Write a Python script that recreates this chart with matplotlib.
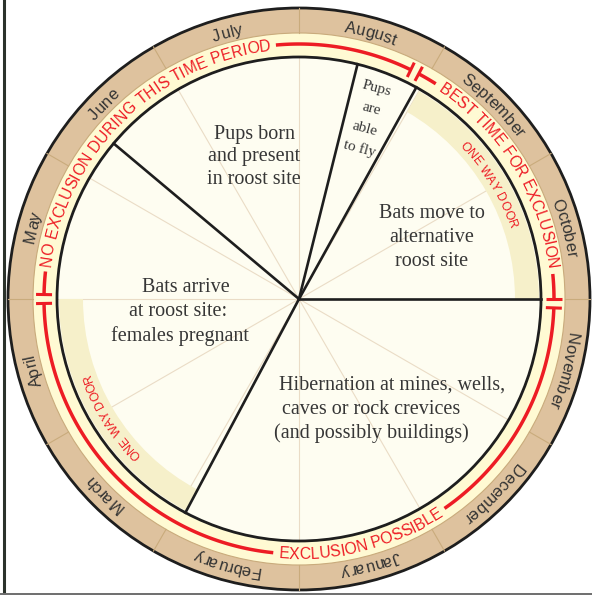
import numpy as np
import matplotlib
matplotlib.use('Agg')
import matplotlib.pyplot as plt
from matplotlib.patches import Circle, Wedge
from matplotlib.font_manager import FontProperties, findfont, get_font

# --- data -------------------------------------------------------------
months = ['January', 'February', 'March', 'April', 'May', 'June',
          'July', 'August', 'September', 'October', 'November', 'December']

# boundaries of the life-cycle wedges (degrees, 0 = east, counter-clockwise)
stage_edges = [140, 76, 61, 0, -118]
stage_labels = [
    ['Pups born', 'and present', 'in roost site'],
    ['Pups', 'are', 'able', 'to fly'],
    ['Bats move to', 'alternative', 'roost site'],
    ['Hibernation at mines, wells,', 'caves or rock crevices',
     '(and possibly buildings)'],
    ['Bats arrive', 'at roost site:', 'females pregnant'],
]

periods = ['NO EXCLUSION DURING THIS TIME PERIOD', 'BEST TIME FOR EXCLUSION',
           'EXCLUSION POSSIBLE']
period_edges = [180, 63, -1, -180]
period_mid = [134.5, 31.6, -75.5]

door_spans = [(0, 60), (180, 242)]
door_label = 'ONE WAY DOOR'

# --- layout -----------------------------------------------------------
W, H = 592, 595
CX, CY = 299, H - 299
R_OUT, R_TAN, R_RED, R_IN = 291, 266, 255, 242

TAN = '#dec29e'
CREAM = '#fffad3'
PIE = '#fefdf1'
DOOR = '#f6f0ca'
RED = '#ed1c24'
INK = '#363636'

# line positions for the wedge texts, in picture pixels (x, y, rotation)
label_pos = [
    [(254, 134, 0), (254, 157, 0), (254, 180, 0)],
    [(377, 89, -15), (371, 109, -15), (365, 129, -15), (360, 149, -15)],
    [(432, 213, 0), (432, 237, 0), (432, 262, 0)],
    [(392, 385, 0), (371, 409, 0), (371, 433, 0)],
    [(186, 288, 0), (178, 312, 0), (180, 336, 0)],
]
label_size = [14.5, 11, 14.5, 14.5, 14.5]


def xy(r, deg):
    t = np.radians(deg)
    return CX + r * np.cos(t), CY + r * np.sin(t)


def arc(ax, r, a1, a2, **kw):
    t = np.linspace(a1, a2, 120)
    x, y = xy(r, t)
    ax.plot(x, y, solid_capstyle='butt', **kw)


def curved_text(ax, s, r, mid, fs, color, clockwise=True,
                family='Liberation Sans'):
    fp = FontProperties(family=family, size=fs)
    font = get_font(findfont(fp))
    font.set_size(fs, 100)
    adv, ink = [], []
    for c in s:
        g = font.load_char(ord(c))
        adv.append(g.linearHoriAdvance / 65536)
        b = g.bbox
        ink.append((b[0] + b[2]) / 2 / 64)
    adv = np.array(adv)
    ink = np.array(ink)
    start = np.cumsum(adv) - adv - adv.sum() / 2
    pos = start + ink
    sign = -1 if clockwise else 1
    for c, p in zip(s, pos):
        if c == ' ':
            continue
        a = mid + sign * np.degrees(p / r)
        x, y = xy(r, a)
        rot = a - 90 if clockwise else a + 90
        ax.text(x, y, c, rotation=rot, rotation_mode='anchor', ha='center',
                va='baseline', fontproperties=fp, color=color, zorder=6)
    return np.degrees(adv.sum() / 2 / r)


fig = plt.figure(figsize=(5.92, 5.95), dpi=100)
ax = fig.add_axes([0, 0, 1, 1])
ax.set_xlim(0, W)
ax.set_ylim(0, H)
ax.axis('off')

# rings
ax.add_patch(Circle((CX, CY), R_OUT, fc=TAN, ec='#1e1e1e', lw=2.0, zorder=1))
ax.add_patch(Circle((CX, CY), R_TAN, fc=CREAM, ec='#c9ab7c', lw=0.8, zorder=1))
ax.add_patch(Circle((CX, CY), R_IN, fc=PIE, ec='none', zorder=1))

# month dividers and faint month lines inside the pie
for k in range(12):
    a = 90 - 30 * k
    x, y = xy(np.array([R_TAN, R_OUT]), a)
    ax.plot(x, y, color='#c9ab7c', lw=0.8, zorder=2)
    x, y = xy(np.array([0, R_IN]), a)
    ax.plot(x, y, color='#eadcc6', lw=0.8, zorder=2)

# one way door bands
for a1, a2 in door_spans:
    ax.add_patch(Wedge((CX, CY), R_IN - 2, a1, a2, width=24, fc=DOOR,
                       ec='none', zorder=3))
    curved_text(ax, door_label, 222, (a1 + a2) / 2 + 1, 8.8, RED)

# inner black circle and wedge lines
ax.add_patch(Circle((CX, CY), R_IN, fc='none', ec='#1e1e1e', lw=2.0, zorder=4))
for a in stage_edges:
    x, y = xy(np.array([0, R_IN]), a)
    ax.plot(x, y, color='#1e1e1e', lw=1.9, zorder=4)

# month names
for k, m in enumerate(months):
    curved_text(ax, m, 271, -75 - 30 * k, 12, '#333333')

# exclusion periods
d = 1.0
gap = 1.2
for i, name in enumerate(periods):
    a_start, a_end = period_edges[i], period_edges[i + 1]
    mid = period_mid[i]
    cw = i < 2
    half = curved_text(ax, name, 250 if cw else 260, mid, 11.3, RED, clockwise=cw)
    if a_start - d > mid + half + gap:
        arc(ax, R_RED, a_start - d, mid + half + gap, color=RED, lw=2.5, zorder=5)
    if mid - half - gap > a_end + d:
        arc(ax, R_RED, mid - half - gap, a_end + d, color=RED, lw=2.5, zorder=5)
for phi in period_edges[:3]:
    for s in (-d, d):
        x, y = xy(np.array([R_RED - 8, R_RED + 8]), phi + s)
        ax.plot(x, y, color=RED, lw=2.2, zorder=5, solid_capstyle='butt')

# wedge texts
for lines, pos, fs in zip(stage_labels, label_pos, label_size):
    for txt, (x, y, rot) in zip(lines, pos):
        ax.text(x, H - y, txt, ha='center', va='center', rotation=rot,
                rotation_mode='anchor', family='Liberation Serif', fontsize=fs,
                color=INK, zorder=6)

# frame lines of the original scan
ax.plot([3.5, 3.5], [0, H], color='#2b322b', lw=2.2, zorder=7)
ax.plot([0, W], [1.5, 1.5], color='#6e6e6e', lw=1.4, zorder=7)

fig.savefig('out.png', dpi=100)
